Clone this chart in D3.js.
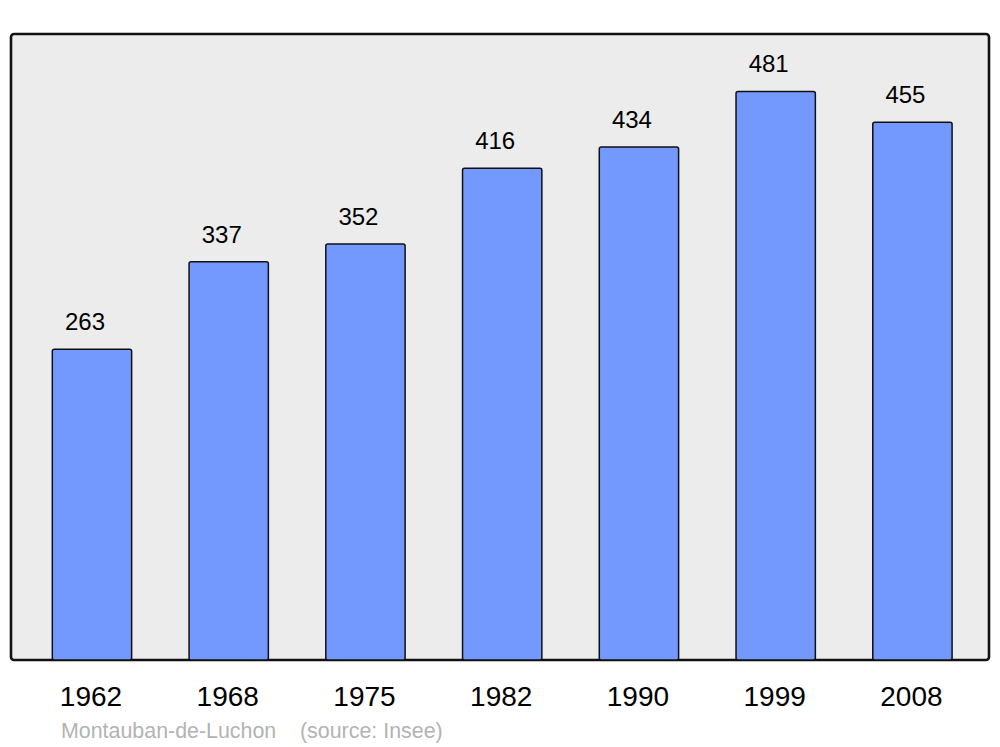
<!DOCTYPE html>
<html>
<head>
<meta charset="utf-8">
<script src="https://cdn.jsdelivr.net/npm/d3@7"></script>
<style>
html,body{margin:0;padding:0;background:#fff;}
svg{display:block;font-family:"Liberation Sans",Arial,sans-serif;}
</style>
</head>
<body>
<svg id="chart" width="1000" height="747"></svg>
<script>
const years = ["1962","1968","1975","1982","1990","1999","2008"];
const population = [263,337,352,416,434,481,455];
const placeName = "Montauban-de-Luchon";
const sourceText = "(source: Insee)";

const svg = d3.select("#chart");
const frame = {left:11, top:34, right:989, bottom:660};

svg.append("rect")
  .attr("x", frame.left).attr("y", frame.top)
  .attr("width", frame.right-frame.left).attr("height", frame.bottom-frame.top)
  .attr("rx", 3).attr("ry", 3)
  .attr("fill", "#ececec").attr("stroke", "#111").attr("stroke-width", 2.6);

const x = d3.scaleBand().domain(years).range([23.6, 980.8]).paddingInner(0.42).paddingOuter(0.21);
const y = d3.scaleLinear().domain([0, 529.6]).range([frame.bottom, frame.top]);

svg.selectAll("rect.bar").data(population).enter().append("rect")
  .attr("class","bar")
  .attr("x", (d,i)=>x(years[i]))
  .attr("y", d=>y(d))
  .attr("width", x.bandwidth())
  .attr("height", d=>frame.bottom - y(d))
  .attr("rx", 2).attr("ry", 2)
  .attr("fill", "#7399ff").attr("stroke", "#111").attr("stroke-width", 1.5);

svg.selectAll("text.val").data(population).enter().append("text")
  .attr("class","val")
  .attr("x", (d,i)=>x(years[i]) + x.bandwidth()/2 - 7)
  .attr("y", d=>y(d) - 19)
  .attr("text-anchor","middle")
  .attr("font-size", 24).attr("fill","#000")
  .text(d=>d);

const xAxis = d3.axisBottom(x).tickSize(0).tickPadding(0);
const gx = svg.append("g").attr("transform", `translate(-1,${frame.bottom})`).call(xAxis);
gx.select(".domain").remove();
gx.selectAll("text").attr("font-size", 28).attr("fill","#000")
  .attr("font-family",'"Liberation Sans",Arial,sans-serif')
  .attr("dy", null).attr("y", 46);

svg.append("text").attr("x", 61).attr("y", 738)
  .attr("font-size", 21.4).attr("fill", "#b3b3b3").text(placeName);
svg.append("text").attr("x", 300).attr("y", 738)
  .attr("font-size", 21.4).attr("fill", "#b3b3b3").text(sourceText);
</script>
</body>
</html>
